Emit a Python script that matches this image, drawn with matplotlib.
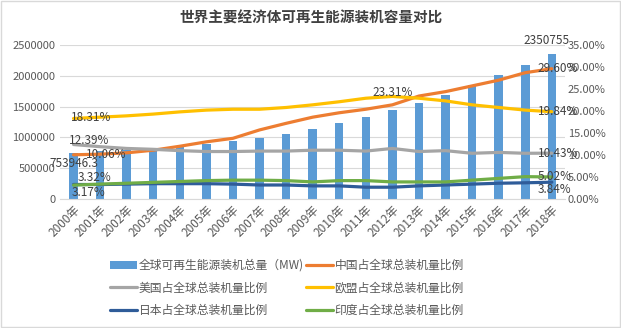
import matplotlib
matplotlib.use("Agg")
from matplotlib import pyplot as plt
from matplotlib.patches import Rectangle
from matplotlib.ticker import FuncFormatter

plt.rcParams['font.family'] = ['Noto Sans CJK SC', 'DejaVu Sans']

# data
years = [f"{y}年" for y in range(2000, 2019)]
total_mw = [753946.3, 775000, 800000, 822000, 860000, 895000, 937000, 988000, 1058000,
            1136000, 1226000, 1329000, 1445000, 1563000, 1693000, 1849000, 2007000,
            2180000, 2350755]
china = [10.06, 10.2, 10.5, 11.1, 12.0, 13.0, 13.8, 15.7, 17.2, 18.6, 19.6, 20.4,
         21.4, 23.4, 24.4, 25.7, 27.0, 28.7, 29.60]
usa = [12.39, 11.9, 11.5, 11.3, 11.0, 10.8, 10.8, 10.9, 10.9, 11.1, 11.1, 10.9,
       11.5, 10.8, 11.0, 10.4, 10.6, 10.4, 10.43]
eu = [18.31, 18.6, 18.9, 19.3, 19.8, 20.2, 20.4, 20.4, 20.8, 21.4, 22.1, 22.9,
      23.31, 22.9, 22.3, 21.4, 20.8, 20.2, 19.84]
japan = [3.32, 3.3, 3.4, 3.5, 3.5, 3.5, 3.4, 3.2, 3.2, 3.0, 3.0, 2.7,
         2.7, 3.0, 3.2, 3.4, 3.6, 3.7, 3.84]
india = [3.17, 3.4, 3.6, 3.8, 4.0, 4.2, 4.3, 4.3, 4.2, 3.9, 4.2, 4.2,
         3.9, 3.9, 3.9, 4.3, 4.7, 5.1, 5.02]

txt = '#595959'
fig = plt.figure(figsize=(6.21, 3.28), dpi=100)
ax = fig.add_axes([0.097, 0.393, 0.813, 0.47])
ax2 = ax.twinx()

x = list(range(len(years)))
bars = ax.bar(x, total_mw, width=0.32, color='#5B9BD5', zorder=2,
              label='全球可再生能源装机总量（MW)')
ax.set_xlim(-0.5, len(years) - 0.5)
ax.set_ylim(0, 2500000)
ax.set_yticks(range(0, 2500001, 500000))
ax.yaxis.set_major_formatter(FuncFormatter(lambda v, p: f"{v:.0f}"))
ax.grid(axis='y', color='#d9d9d9', lw=0.8, zorder=0)
ax.set_xticks(x)
ax.set_xticklabels(years, rotation=45, ha='right', rotation_mode='anchor',
                   fontsize=8.5, color=txt)
ax.tick_params(axis='y', labelsize=8, colors=txt, length=0)
ax.tick_params(axis='x', length=0, pad=3)
for s in ['top', 'right', 'left']:
    ax.spines[s].set_visible(False)
ax.spines['bottom'].set_color('#d9d9d9')

lines = [
    (china, '#ED7D31', '中国占全球总装机量比例'),
    (usa, '#A5A5A5', '美国占全球总装机量比例'),
    (eu, '#FFC000', '欧盟占全球总装机量比例'),
    (japan, '#2F5C99', '日本占全球总装机量比例'),
    (india, '#70AD47', '印度占全球总装机量比例'),
]
handles = {}
for vals, col, name in lines:
    h, = ax2.plot(x, [v / 100 for v in vals], color=col, lw=2.3, label=name,
                  solid_capstyle='round')
    handles[name] = h
ax2.set_ylim(0, 0.35)
ax2.set_yticks([i * 0.05 for i in range(8)])
ax2.yaxis.set_major_formatter(FuncFormatter(lambda v, p: f"{v * 100:.2f}%"))
ax2.tick_params(axis='y', labelsize=8, colors=txt, length=0, pad=2)
for s in ax2.spines.values():
    s.set_visible(False)

# data labels
lab = dict(fontsize=8.5, color='#404040')
ax.annotate(f"{total_mw[0]:.1f}", (0, total_mw[0]), xytext=(0, -8),
            textcoords='offset points', ha='center', va='center', **lab)
ax.annotate(f"{total_mw[-1]:.0f}", (18, total_mw[-1]), xytext=(-4, 10),
            textcoords='offset points', ha='center', va='center', **lab)
first = [(eu, -2, 1), (usa, -3, 3), (china, 9, 0), (japan, 3, 5), (india, -1, -5)]
for vals, dx, dy in first:
    ax2.annotate(f"{vals[0]:.2f}%", (0, vals[0] / 100), xytext=(dx, dy),
                 textcoords='offset points', ha='left', va='center', **lab)
ax2.annotate(f"{eu[12]:.2f}%", (12, eu[12] / 100), xytext=(0, 3),
             textcoords='offset points', ha='center', va='center', **lab)
last = [(china, 0), (eu, 0), (usa, 0), (india, 0), (japan, -5)]
for vals, dy in last:
    ax2.annotate(f"{vals[-1]:.2f}%", (18, vals[-1] / 100), xytext=(-10, dy),
                 textcoords='offset points', ha='left', va='center', **lab)

order = [bars, handles['美国占全球总装机量比例'], handles['日本占全球总装机量比例'],
         handles['中国占全球总装机量比例'], handles['欧盟占全球总装机量比例'],
         handles['印度占全球总装机量比例']]
fig.legend(handles=order, labels=[h.get_label() for h in order], ncol=2,
           loc='upper left', bbox_to_anchor=(0.17, 0.225), frameon=False,
           fontsize=8.5, labelcolor=txt, handlelength=2.3, handletextpad=0.1,
           columnspacing=0.2, labelspacing=0.8, borderaxespad=0.0)

fig.text(0.5, 0.945, '世界主要经济体可再生能源装机容量对比', ha='center', va='center',
         fontsize=10.5, fontweight='bold', color='#404040')
fig.patches.append(Rectangle((0.002, 0.004), 0.996, 0.992, transform=fig.transFigure,
                             fill=False, edgecolor='#d9d9d9', lw=1))

fig.savefig('out.png', dpi=100)
